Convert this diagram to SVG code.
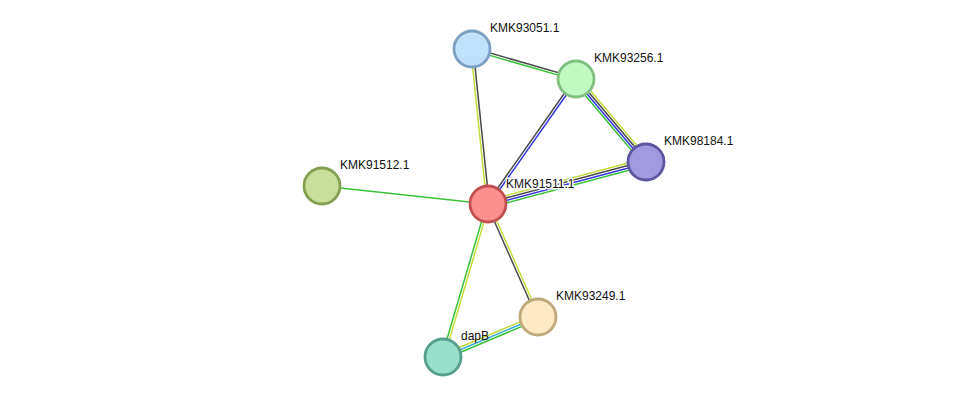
<svg xmlns="http://www.w3.org/2000/svg" width="975" height="403" viewBox="0 0 975 403">
<style>
.e{stroke-width:1.5;fill:none}
.g{stroke:#3ac23a}.y{stroke:#c6dc3a}.k{stroke:#4a4a4a}.b{stroke:#3535e8}.c{stroke:#3aa8d8}
.n{stroke-width:2.8}
text{font-family:"Liberation Sans",Arial,sans-serif;font-size:12px;fill:#111}
.halo{stroke:#fff;stroke-width:3;stroke-linejoin:round;fill:#fff}
</style>
<rect width="975" height="403" fill="#fff"/>
<g id="edges">
<line class="e k" x1="472.3" y1="47.85" x2="576.3" y2="77.85"/>
<line class="e g" x1="471.7" y1="50.15" x2="575.7" y2="80.15"/>
<line class="e y" x1="470.8" y1="49.1" x2="486.8" y2="204.1"/>
<line class="e k" x1="473.2" y1="48.9" x2="489.2" y2="203.9"/>
<line class="e k" x1="575.0" y1="78.3" x2="487.0" y2="203.3"/>
<line class="e b" x1="577.0" y1="79.7" x2="489.0" y2="204.7"/>
<line class="e g" x1="573.3" y1="81.3" x2="643.3" y2="164.3"/>
<line class="e b" x1="575.1" y1="79.8" x2="645.1" y2="162.8"/>
<line class="e k" x1="576.9" y1="78.2" x2="646.9" y2="161.2"/>
<line class="e y" x1="578.7" y1="76.7" x2="648.7" y2="159.7"/>
<line class="e y" x1="487.1" y1="200.5" x2="645.1" y2="158.5"/>
<line class="e k" x1="487.7" y1="202.8" x2="645.7" y2="160.8"/>
<line class="e b" x1="488.3" y1="205.2" x2="646.3" y2="163.2"/>
<line class="e g" x1="488.9" y1="207.5" x2="646.9" y2="165.5"/>
<line class="e g" x1="322" y1="186" x2="488" y2="204"/>
<line class="e g" x1="486.8" y1="203.7" x2="441.8" y2="356.7"/>
<line class="e y" x1="489.2" y1="204.3" x2="444.2" y2="357.3"/>
<line class="e k" x1="486.9" y1="204.5" x2="536.9" y2="317.5"/>
<line class="e y" x1="489.1" y1="203.5" x2="539.1" y2="316.5"/>
<line class="e y" x1="442.0" y1="354.8" x2="537.0" y2="314.8"/>
<line class="e c" x1="443" y1="357" x2="538" y2="317"/>
<line class="e g" x1="444.0" y1="359.2" x2="539.0" y2="319.2"/>
</g>
<g id="KMK93051.1"><circle class="n" cx="472" cy="49" r="18" fill="#c0e0fc" stroke="#7ba0c2"/><text x="490" y="32">KMK93051.1</text></g>
<g id="KMK93256.1"><circle class="n" cx="576" cy="79" r="18" fill="#c0fac0" stroke="#80c080"/><text x="594" y="62">KMK93256.1</text></g>
<g id="KMK98184.1"><circle class="n" cx="646" cy="162" r="18" fill="#a29ae0" stroke="#5e56a0"/><text x="664" y="145">KMK98184.1</text></g>
<g id="KMK91512.1"><circle class="n" cx="322" cy="186" r="18" fill="#c8de9a" stroke="#82a050"/><text x="340" y="169">KMK91512.1</text></g>
<g id="KMK91511.1"><circle class="n" cx="488" cy="204" r="18" fill="#fc8e8e" stroke="#c05050"/><text class="halo" x="506" y="188">KMK91511.1</text><text x="506" y="188">KMK91511.1</text></g>
<g id="KMK93249.1"><circle class="n" cx="538" cy="317" r="18" fill="#fde9c4" stroke="#bfa87a"/><text x="556" y="300">KMK93249.1</text></g>
<g id="dapB"><circle class="n" cx="443" cy="357" r="18" fill="#98e0cc" stroke="#55a08c"/><text x="461" y="340">dapB</text></g>
</svg>
